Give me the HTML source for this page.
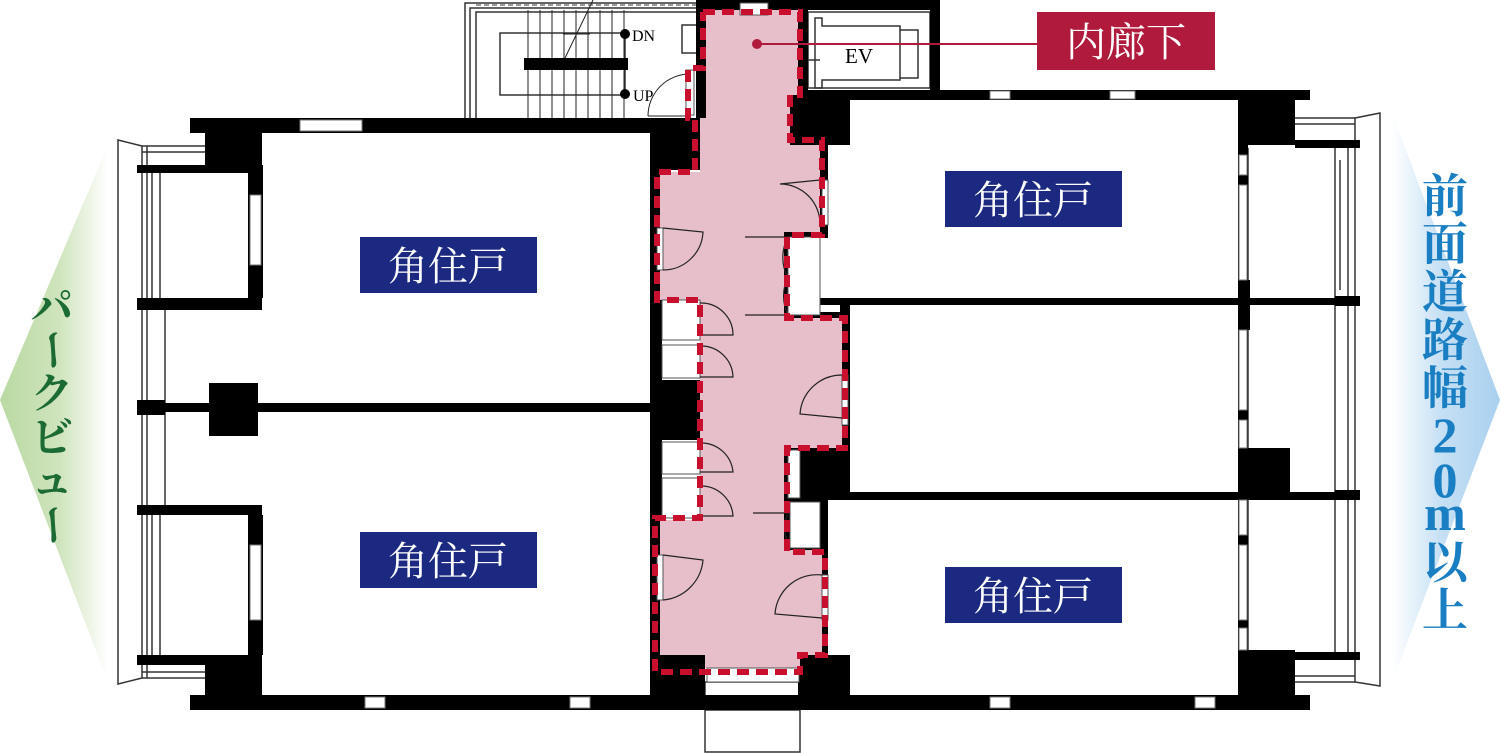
<!DOCTYPE html>
<html><head><meta charset="utf-8"><style>
html,body{margin:0;padding:0;background:#fff;}
body{width:1500px;height:753px;overflow:hidden;position:relative;}
svg{position:absolute;left:0;top:0;}
</style></head><body>
<svg width="1500" height="753" viewBox="0 0 1500 753" xmlns="http://www.w3.org/2000/svg">
<defs>
<linearGradient id="gl" x1="0" x2="1" y1="0" y2="0"><stop offset="0" stop-color="#b9d9a2"/><stop offset="0.55" stop-color="#cfe4bd"/><stop offset="1" stop-color="#ffffff"/></linearGradient>
<linearGradient id="gr" x1="1" x2="0" y1="0" y2="0"><stop offset="0" stop-color="#a9d0ef"/><stop offset="0.55" stop-color="#c6e0f4"/><stop offset="1" stop-color="#ffffff"/></linearGradient>
</defs>
<polygon points="108,145 0,400 108,682" fill="url(#gl)"/>
<polygon points="1392,113 1500,400 1392,682" fill="url(#gr)"/>

<g fill="none" stroke="#333" stroke-width="1.5">
<polygon points="118,140 142,146 142,678 118,684"/>
<line x1="147" y1="146" x2="147" y2="678"/><line x1="152" y1="172" x2="152" y2="298"/><line x1="160" y1="172" x2="160" y2="298"/>
<line x1="152" y1="515" x2="152" y2="655"/><line x1="160" y1="515" x2="160" y2="655"/>
<line x1="165" y1="310" x2="165" y2="505"/>
<line x1="142" y1="146" x2="205" y2="146"/><line x1="142" y1="152" x2="205" y2="152"/>
<line x1="142" y1="678" x2="205" y2="678"/><line x1="142" y1="672" x2="205" y2="672"/>
<polygon points="1380,113 1355,118 1355,682 1380,686"/>
<line x1="1348" y1="148" x2="1348" y2="652"/><line x1="1335" y1="148" x2="1335" y2="652"/><line x1="1340" y1="160" x2="1340" y2="290"/>
<line x1="1295" y1="118" x2="1355" y2="118"/><line x1="1295" y1="124" x2="1355" y2="124"/>
<line x1="1295" y1="682" x2="1355" y2="682"/><line x1="1295" y1="676" x2="1355" y2="676"/>
<line x1="1290" y1="302" x2="1335" y2="302"/><line x1="1290" y1="496" x2="1335" y2="496"/>
<line x1="1248" y1="148" x2="1248" y2="652"/>
<polyline points="465,118 465,3 700,3"/><polyline points="470,118 470,8 700,8"/>
<polyline points="476,118 476,12 700,12"/>
<rect x="500" y="33" width="125" height="62"/>
<rect x="682" y="25" width="18" height="28"/>
<rect x="808" y="12" width="122" height="76"/>
<polygon points="815,18 822,18 822,26 900,26 900,30 918,30 918,78 900,78 900,80 822,80 822,88 815,88"/>
<line x1="900" y1="30" x2="900" y2="78"/>
<line x1="802" y1="60" x2="820" y2="60"/>
<rect x="705" y="682" width="95" height="70"/>
<line x1="705" y1="700" x2="800" y2="700"/><line x1="705" y1="710" x2="800" y2="710"/>
</g>
<g stroke="#222" stroke-width="1">
<line x1="528" y1="10" x2="528" y2="118"/><line x1="540" y1="10" x2="540" y2="118"/><line x1="552" y1="10" x2="552" y2="118"/><line x1="564" y1="10" x2="564" y2="118"/><line x1="576" y1="10" x2="576" y2="118"/><line x1="588" y1="10" x2="588" y2="118"/><line x1="600" y1="10" x2="600" y2="118"/><line x1="612" y1="10" x2="612" y2="118"/><line x1="624" y1="10" x2="624" y2="118"/>
<line x1="565" y1="58" x2="593" y2="0"/><line x1="563" y1="34" x2="590" y2="34"/>
</g>
<line x1="476" y1="5" x2="700" y2="5" stroke="#333" stroke-dasharray="5 3"/>
<rect x="524" y="58" width="104" height="12" fill="#000"/>
<circle cx="625" cy="34" r="5" fill="#000"/><circle cx="625" cy="94" r="5" fill="#000"/>
<text x="632" y="41" font-family="Liberation Serif,serif" font-size="16">DN</text>
<text x="633" y="101" font-family="Liberation Serif,serif" font-size="16">UP</text>
<text x="845" y="63" font-family="Liberation Serif,serif" font-size="21">EV</text>
<path d="M648,116 A42,42 0 0 1 690,74" fill="none" stroke="#222" stroke-width="1"/>
<line x1="648" y1="116" x2="690" y2="116" stroke="#222"/>

<g fill="#000">
<rect x="462" y="118" width="238" height="15"/>
<rect x="190" y="118" width="462" height="15"/>
<rect x="205" y="118" width="57" height="47"/>
<rect x="137" y="165" width="125" height="8"/>
<rect x="248" y="165" width="15" height="133"/>
<rect x="137" y="298" width="125" height="12"/>
<rect x="137" y="403" width="520" height="9"/>
<rect x="137" y="400" width="28" height="15"/>
<rect x="209" y="383" width="49" height="53"/>
<rect x="137" y="505" width="125" height="10"/>
<rect x="248" y="515" width="15" height="140"/>
<rect x="137" y="655" width="125" height="10"/>
<rect x="205" y="655" width="57" height="55"/>
<rect x="190" y="695" width="1120" height="15"/>
<rect x="650" y="118" width="50" height="52"/>
<rect x="650" y="118" width="12" height="577"/>
<rect x="652" y="380" width="48" height="60"/>
<rect x="652" y="655" width="53" height="55"/>
<rect x="696" y="0" width="10" height="118"/>
<rect x="698" y="0" width="242" height="10"/>
<rect x="930" y="0" width="10" height="90"/>
<rect x="798" y="0" width="10" height="95"/>
<rect x="798" y="90" width="512" height="10"/>
<rect x="1238" y="90" width="57" height="55"/>
<rect x="1295" y="140" width="65" height="8"/>
<rect x="782" y="90" width="68" height="55"/>
<rect x="820" y="145" width="8" height="90"/>
<rect x="782" y="228" width="46" height="10"/>
<rect x="782" y="228" width="8" height="92"/>
<rect x="782" y="312" width="68" height="10"/>
<rect x="820" y="298" width="540" height="7"/>
<rect x="840" y="305" width="10" height="145"/>
<rect x="782" y="445" width="68" height="55"/>
<rect x="850" y="492" width="510" height="8"/>
<rect x="1238" y="448" width="52" height="52"/>
<rect x="1238" y="280" width="12" height="50"/>
<rect x="1335" y="296" width="25" height="10"/>
<rect x="1335" y="490" width="25" height="10"/>
<rect x="782" y="495" width="46" height="10"/>
<rect x="782" y="495" width="8" height="60"/>
<rect x="782" y="548" width="46" height="8"/>
<rect x="820" y="500" width="8" height="195"/>
<rect x="798" y="655" width="52" height="55"/>
<rect x="1238" y="145" width="10" height="550"/>
<rect x="1238" y="650" width="57" height="60"/>
<rect x="1295" y="652" width="65" height="8"/>
</g>
<g fill="#fff" stroke="#777" stroke-width="1">
<rect x="300" y="120" width="62" height="11"/>
<rect x="250" y="195" width="11" height="70"/>
<rect x="250" y="545" width="11" height="75"/>
<rect x="365" y="697" width="20" height="11"/><rect x="570" y="697" width="20" height="11"/>
<rect x="990" y="697" width="20" height="11"/><rect x="1195" y="697" width="20" height="11"/>
<rect x="990" y="91" width="20" height="8"/><rect x="1110" y="91" width="25" height="8"/>
<rect x="1239" y="155" width="8" height="20"/><rect x="1239" y="185" width="8" height="95"/>
<rect x="1239" y="330" width="8" height="80"/><rect x="1239" y="420" width="8" height="28"/>
<rect x="1239" y="500" width="8" height="35"/><rect x="1239" y="545" width="8" height="75"/><rect x="1239" y="628" width="8" height="22"/>
</g>

<polygon fill="#e6bfcb" points="706,10 798,10 798,95 790,95 790,145 820,145 820,232 784,232 784,318 842,318 842,448 784,448 784,550 822,550 822,655 800,655 800,668 705,668 705,655 660,655 660,520 700,520 700,300 660,300 660,172 700,172 700,118 706,118"/>
<g fill="#fff" stroke="#555" stroke-width="1">
<rect x="662" y="300" width="38" height="40"/><rect x="662" y="345" width="38" height="33"/>
<rect x="662" y="442" width="38" height="32"/><rect x="662" y="478" width="38" height="40"/>
<rect x="788" y="237" width="32" height="78"/>
<rect x="788" y="450" width="12" height="48"/>
<rect x="790" y="502" width="30" height="46"/>
<rect x="707" y="668" width="92" height="14"/>
<rect x="657" y="228" width="6" height="42"/><rect x="657" y="555" width="6" height="45"/>
<rect x="822" y="180" width="6" height="45"/><rect x="842" y="375" width="6" height="50"/><rect x="822" y="575" width="6" height="45"/>
<rect x="686" y="70" width="8" height="45"/>
<rect x="740" y="3" width="28" height="12"/>
</g>
<g fill="none" stroke="#222" stroke-width="1.2">
<path d="M663,228 L703,232 A40,40 0 0 1 663,270"/>
<path d="M663,555 L703,560 A44,44 0 0 1 663,600"/>
<path d="M820,180 L780,184 A40,40 0 0 1 820,225"/>
<path d="M745,237 L788,237 A43,43 0 0 0 788,278"/>
<path d="M745,315 L788,315 A43,43 0 0 1 788,277"/>
<path d="M700,303 A32,32 0 0 1 733,335 L700,335"/>
<path d="M700,346 A32,32 0 0 1 733,377 L700,377"/>
<path d="M700,443 A32,32 0 0 1 733,472 L700,472"/>
<path d="M700,486 A32,32 0 0 1 733,516 L700,516"/>
<path d="M842,375 A42,42 0 0 0 800,414 L842,418"/>
<path d="M753,513 L788,513 A36,36 0 0 0 788,543"/>
<path d="M822,575 A42,42 0 0 0 775,614 L822,618"/>
</g>
<polyline fill="none" stroke="#c8102e" stroke-width="6" stroke-dasharray="12 7" points="703,12 800,12 800,95 790,95 790,140 822,140 822,235 787,235 787,318 845,318 845,448 787,448 787,552 825,552 825,655 800,655 800,672 705,672 655,672 655,518 700,518 700,300 657,300 657,172 695,172 695,118 688,118 688,68 703,68 703,12"/>
<line x1="757" y1="44" x2="1038" y2="44" stroke="#b01a3c" stroke-width="2"/>
<circle cx="757" cy="44" r="5" fill="#b01a3c"/>
<rect x="1037" y="12" width="178" height="58" fill="#b01a3c"/>
<text x="1126" y="56" text-anchor="middle" fill="#fff" font-family="Noto Serif CJK SC,serif" font-size="40">内廊下</text>
<g fill="#1b2a80"><rect x="360" y="237" width="177" height="56"/><rect x="360" y="532" width="177" height="56"/><rect x="945" y="171" width="177" height="56"/><rect x="945" y="567" width="177" height="56"/></g>
<g fill="#fff" font-family="Noto Serif CJK SC,serif" font-size="40" text-anchor="middle">
<text x="448" y="280">角住戸</text><text x="448" y="575">角住戸</text><text x="1033" y="214">角住戸</text><text x="1033" y="610">角住戸</text>
</g>
<g fill="#1d6b34" font-family="Noto Serif CJK SC,serif" font-size="42" font-weight="bold" text-anchor="middle">
<text x="52" y="322">パ</text>
<g transform="translate(52,350) rotate(90)"><text x="0" y="14" font-size="42">ー</text></g>
<text x="52" y="408">ク</text>
<text x="52" y="452">ビ</text>
<text x="52" y="495">ュ</text>
<g transform="translate(52,505) rotate(90)"><text x="20" y="14" font-size="42">ー</text></g>
</g>
<g fill="#1a7ec2" font-family="Liberation Serif,Noto Serif CJK SC,serif" font-size="46" font-weight="bold" text-anchor="middle">
<text x="1445" y="212">前</text>
<text x="1445" y="260">面</text>
<text x="1445" y="308">道</text>
<text x="1445" y="356">路</text>
<text x="1445" y="404">幅</text>
<text x="1445" y="452" font-size="50">2</text>
<text x="1445" y="497" font-size="50">0</text>
<text x="1445" y="530" font-size="50">m</text>
<text x="1445" y="578">以</text>
<text x="1445" y="626">上</text>
</g>
</svg>
</body></html>
